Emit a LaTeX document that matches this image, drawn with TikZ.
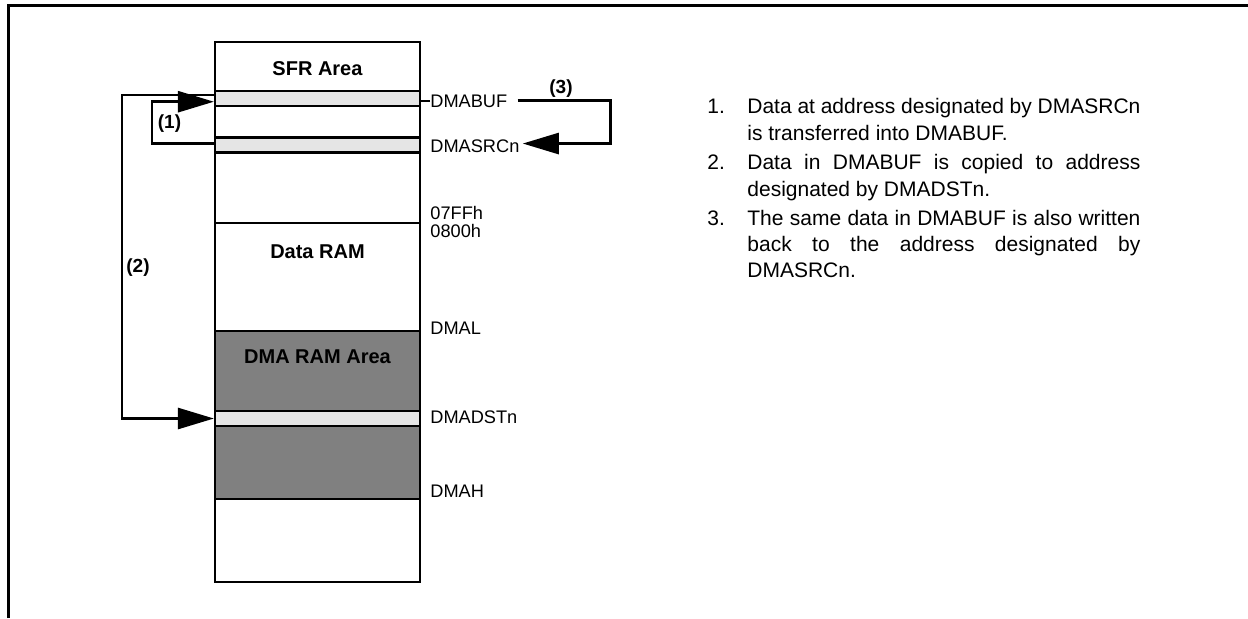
\documentclass[tikz,border=0pt]{standalone}
\usepackage{fontspec}
\setmainfont{Liberation Sans}
\usetikzlibrary{arrows.meta,calc}
\definecolor{bandgray}{gray}{0.9}
\definecolor{dmagray}{gray}{0.5}
\newcommand{\jline}[1]{\makebox[196.5pt][s]{#1}}
\tikzset{
  >={Triangle[length=18pt,width=10.5pt]},
  mem/.style={line width=1.1pt},
  band/.style={draw,fill=bandgray,line width=1.1pt,minimum width=102.5pt,minimum height=7.5pt,inner sep=0pt},
  lbl/.style={anchor=base west,inner sep=0pt,font=\fontsize{9.1}{11}\selectfont},
  area/.style={anchor=base,inner sep=0pt,font=\fontsize{10}{12}\selectfont\bfseries},
  stp/.style={inner sep=0pt,font=\fontsize{9.5}{11}\selectfont\bfseries},
  flow/.style={line width=1.35pt},
  nt/.style={anchor=base west,inner sep=0pt,font=\fontsize{10.5}{13}\selectfont},
}

\begin{document}
\begin{tikzpicture}[x=0.5pt,y=-0.5pt]
\useasboundingbox (0,0) rectangle (1248,618);
\draw[line width=1.25pt] (8.7,618) -- (8.7,5.3) -- (1248,5.3);
% memory map
\fill[dmagray] (215,331) rectangle (420,499);
\draw[mem] (215,42) rectangle (420,582);
\foreach \y in {223,331,499} \draw[mem] (215,\y) -- (420,\y);
\node[band] (buf) at (317.5,98.5){}; \node[band] (src) at (317.5,145){}; \node[band] (dst) at (317.5,418.5){};
\node[area] (sfr) at (317.5,75){SFR Area}; \node[area] (ram) at (317.5,258){Data RAM};
\node[area] (dma) at (317.5,363){DMA RAM Area};
% addresses
\node[lbl] (lbuf) at (430,107){DMABUF}; \node[lbl] (lsrc) at (430,152.5){DMASRCn};
\node[lbl] (lhi) at (430,219){07FFh}; \node[lbl] (llo) at (430,237.5){0800h};
\node[lbl] (ldmal) at (430,334){DMAL}; \node[lbl] (ldst) at (430,423){DMADSTn};
\node[lbl] (ldmah) at (430,497){DMAH};
\draw[mem] (lbuf.west) -- ++(-10,0);
% transfers
\draw[flow,->] ($(src.west)+(0,-1.7)$) -- ++(-62,0) |- ($(buf.west)+(0,3.2)$);
\draw[flow,->] ($(buf.west)+(0,-3.5)$) -- ++(-92,0) |- (dst.west);
\draw[flow,->] ($(lbuf.east)+(10,0)$) -- ++(93,0) |- ($(lsrc.east)+(3,-2.7)$);
\node[stp] (s1) at (169.5,123.5){(1)}; \node[stp] (s2) at (138,268){(2)};
\node[stp] (s3) at (561,88.5){(3)};
% notes
\node[nt] (k1) at (707,113.3){1.}; \node[nt] (t1a) at (747,113.3){\jline{Data at address designated by DMASRCn}};
\node[nt] (t1b) at (747,140){is transferred into DMABUF.};
\node[nt] (k2) at (707,169.3){2.}; \node[nt] (t2a) at (747,169.3){\jline{Data in DMABUF is copied to address}};
\node[nt] (t2b) at (747,196){designated by DMADSTn.};
\node[nt] (k3) at (707,225){3.}; \node[nt] (t3a) at (747,225){\jline{The same data in DMABUF is also written}};
\node[nt] (t3b) at (747,251.7){\jline{back to the address designated by}};
\node[nt] (t3c) at (747,277.3){DMASRCn.};
\end{tikzpicture}
\end{document}
